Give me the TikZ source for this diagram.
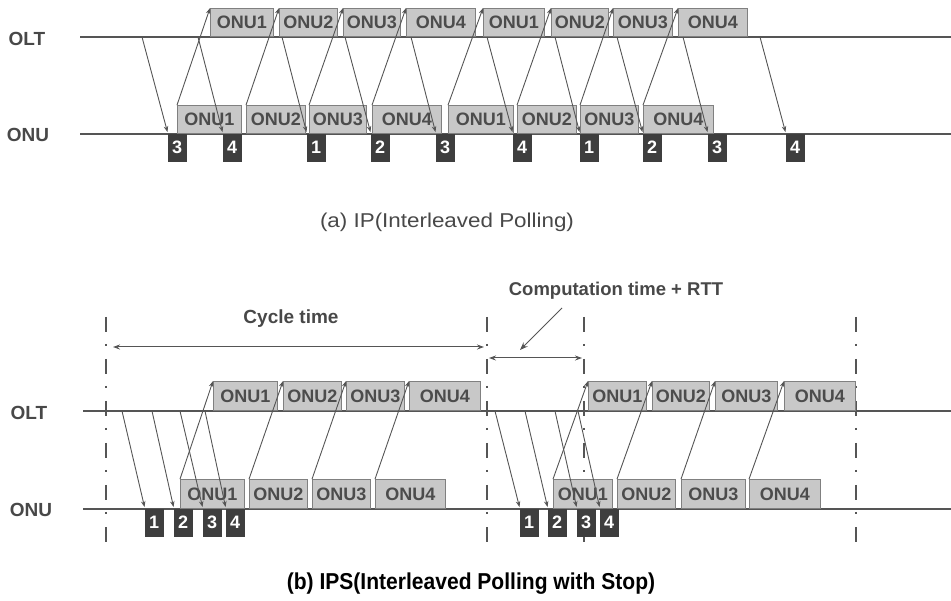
\documentclass[tikz,border=0pt]{standalone}
\usepackage{fontspec}
\usepackage{graphicx}
\setmainfont{Liberation Sans}
\usetikzlibrary{arrows.meta,calc}
\definecolor{lg}{HTML}{555555}
\definecolor{bd}{HTML}{808080}
\definecolor{bf}{HTML}{C8C8C8}
\definecolor{bt}{HTML}{4C4C4C}
\definecolor{dk}{HTML}{3E3E3E}
\definecolor{ar}{HTML}{555555}
\definecolor{lt}{HTML}{484848}
\begin{document}
\begin{tikzpicture}[x=1pt,y=-1pt,
  tl/.style={draw=lg, line width=2.2pt},
  obox/.style={draw=bd, fill=bf, line width=0.9pt, inner sep=0pt, minimum height=28pt, anchor=south west, text=bt, font=\fontsize{18}{18}\selectfont\bfseries},
  obb/.style={obox, minimum height=29pt},
  dbox/.style={fill=dk, draw=dk, inner sep=0pt, minimum width=18pt, minimum height=27pt, anchor=north west, text=white, font=\fontsize{18}{18}\selectfont\bfseries},
  sig/.style={draw=ar, line width=0.9pt, -{Stealth[length=6pt,width=4.5pt]}},
  dsig/.style={sig, shorten >=2pt},
  dd/.style={draw=lg, line width=2.2pt, dash pattern=on 15pt off 12pt on 2pt off 13pt},
  lab/.style={text=lt, font=\fontsize{19}{19}\selectfont\bfseries},
  span/.style={draw=ar, line width=1pt, {Stealth[length=7pt,width=5pt]}-{Stealth[length=7pt,width=5pt]}},
]
\useasboundingbox (0,0) rectangle (951,601);

% ---------- (a) ----------
\node[lab] (olta) at (27,39) {OLT};
\node[lab] (onua) at (28,135) {ONU};
\coordinate (la1) at (80,37); \coordinate (la2) at (951,37);
\coordinate (la3) at (80,134); \coordinate (la4) at (951,134);
\draw[tl] (la1) -- (la2);
\draw[tl] (la3) -- (la4);

\node[obox, minimum width=63pt] (oa1) at (210,37) {ONU1};
\node[obox, minimum width=58pt] (oa2) at (279,37) {ONU2};
\node[obox, minimum width=57pt] (oa3) at (343,37) {ONU3};
\node[obox, minimum width=69pt] (oa4) at (406,37) {ONU4};
\node[obox, minimum width=61pt] (oa5) at (483,37) {ONU1};
\node[obox, minimum width=57pt] (oa6) at (551,37) {ONU2};
\node[obox, minimum width=59pt] (oa7) at (613,37) {ONU3};
\node[obox, minimum width=69pt] (oa8) at (678,37) {ONU4};

\node[obox, minimum width=64pt] (ua1) at (177,134) {ONU1};
\node[obox, minimum width=59pt] (ua2) at (246,134) {ONU2};
\node[obox, minimum width=57pt] (ua3) at (309,134) {ONU3};
\node[obox, minimum width=69pt] (ua4) at (372,134) {ONU4};
\node[obox, minimum width=65pt] (ua5) at (448,134) {ONU1};
\node[obox, minimum width=59pt] (ua6) at (517,134) {ONU2};
\node[obox, minimum width=58pt] (ua7) at (580,134) {ONU3};
\node[obox, minimum width=70pt] (ua8) at (643,134) {ONU4};

\node[dbox] (da1) at (168,134) {3};
\node[dbox] (da2) at (223,134) {4};
\node[dbox] (da3) at (307,134) {1};
\node[dbox] (da4) at (371,134) {2};
\node[dbox] (da5) at (436,134) {3};
\node[dbox] (da6) at (513,134) {4};
\node[dbox] (da7) at (580,134) {1};
\node[dbox] (da8) at (643,134) {2};
\node[dbox] (da9) at (708,134) {3};
\node[dbox] (da10) at (786,134) {4};

\foreach \i/\x in {1/142,2/198,3/282,4/345,5/411,6/487,7/555,8/617,9/683,10/760}
  \coordinate (ga\i) at (\x,37);
\foreach \i in {1,...,10}
  \draw[dsig] (ga\i) -- (da\i.north west);
\foreach \i in {1,...,8}
  \draw[sig] (ua\i.north west) -- (oa\i.north west);

\node[text=lt, font=\fontsize{20}{20}\selectfont] (capa) at (447,222) {\scalebox{1.12}[1]{(a) IP(Interleaved Polling)}};

% ---------- (b) ----------
\foreach \n/\x in {1/106,2/487,3/584,4/856}{
  \coordinate (v\n t) at (\x,317);
  \coordinate (v\n b) at (\x,548);
  \draw[dd] (v\n t) -- (v\n b);
}

\node[lab] (oltb) at (29,413) {OLT};
\node[lab] (onub) at (31,510) {ONU};
\coordinate (lb1) at (83,411); \coordinate (lb2) at (951,411);
\coordinate (lb3) at (83,509); \coordinate (lb4) at (951,509);
\draw[tl] (lb1) -- (lb2);
\draw[tl] (lb3) -- (lb4);

\node[obb, minimum width=64pt] (ob1) at (213,411) {ONU1};
\node[obb, minimum width=58pt] (ob2) at (283,411) {ONU2};
\node[obb, minimum width=58pt] (ob3) at (346,411) {ONU3};
\node[obb, minimum width=71pt] (ob4) at (409,411) {ONU4};
\node[obb, minimum width=58pt] (ob5) at (588,411) {ONU1};
\node[obb, minimum width=57pt] (ob6) at (652,411) {ONU2};
\node[obb, minimum width=62pt] (ob7) at (715,411) {ONU3};
\node[obb, minimum width=71pt] (ob8) at (784,411) {ONU4};

\node[obb, minimum width=64pt] (ub1) at (180,509) {ONU1};
\node[obb, minimum width=58pt] (ub2) at (249,509) {ONU2};
\node[obb, minimum width=58pt] (ub3) at (312,509) {ONU3};
\node[obb, minimum width=70pt] (ub4) at (375,509) {ONU4};
\node[obb, minimum width=59pt] (ub5) at (553,509) {ONU1};
\node[obb, minimum width=58pt] (ub6) at (617,509) {ONU2};
\node[obb, minimum width=64pt] (ub7) at (681,509) {ONU3};
\node[obb, minimum width=71pt] (ub8) at (749,509) {ONU4};

\node[dbox] (db1) at (145,509) {1};
\node[dbox] (db2) at (174,509) {2};
\node[dbox] (db3) at (203,509) {3};
\node[dbox] (db4) at (226,509) {4};
\node[dbox] (db5) at (520,509) {1};
\node[dbox] (db6) at (548,509) {2};
\node[dbox] (db7) at (577,509) {3};
\node[dbox] (db8) at (600,509) {4};

\foreach \i/\x in {1/122,2/152,3/180,4/205,5/495,6/525,7/555,8/578}
  \coordinate (gb\i) at (\x,411);
\foreach \i in {1,...,8}
  \draw[dsig] (gb\i) -- (db\i.north west);
\foreach \i in {1,...,8}
  \draw[sig] (ub\i.north west) -- (ob\i.north west);

% spans
\coordinate (c1) at (113,347); \coordinate (c2) at (484,347);
\draw[span] (c1) -- (c2);
\node[lab] (cyc) at (291,319) {Cycle time};

\coordinate (k1) at (489,358); \coordinate (k2) at (582,358);
\draw[span] (k1) -- (k2);
\node[lab, font=\fontsize{18.5}{18.5}\selectfont\bfseries] (comp) at (616,291) {Computation time + RTT};
\coordinate (p1) at (562,308); \coordinate (p2) at (520,350);
\draw[draw=ar, line width=1pt, -{Stealth[length=8pt,width=6pt]}] (p1) -- (p2);

\node[text=black, font=\fontsize{23}{23}\selectfont\bfseries] (capb) at (471,584) {\scalebox{0.915}[1]{(b) IPS(Interleaved Polling with Stop)}};
\end{tikzpicture}
\end{document}
